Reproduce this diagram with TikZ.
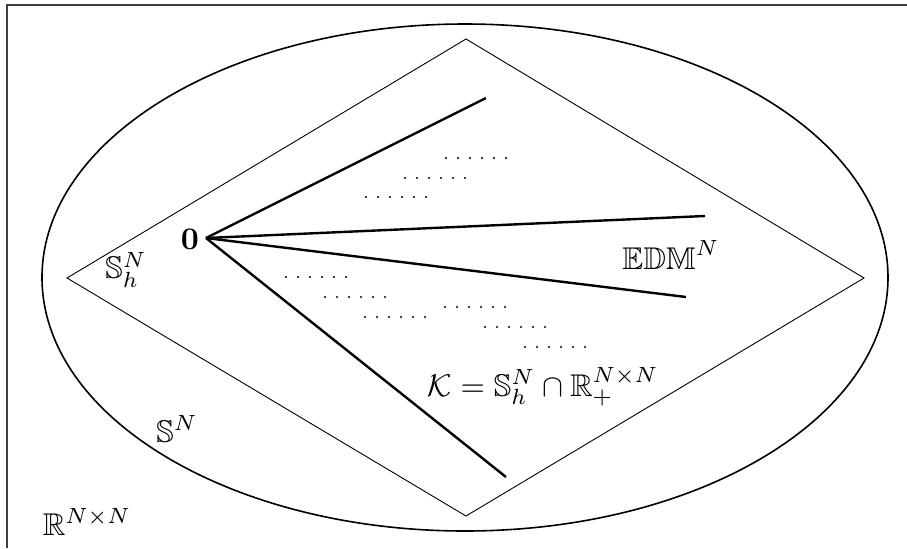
\documentclass[tikz,border=0pt]{standalone}
\usepackage{amssymb}
\begin{document}
\begin{tikzpicture}[x=0.5pt,y=-0.5pt,
  lbl/.style={inner sep=0pt,scale=1.57},
  ray/.style={line width=1.2pt},
  frameline/.style={line width=0.6pt,black!75}]
\useasboundingbox (0,0) rectangle (907,548);
% frame
\draw[frameline] (7,548) -- (7,5) -- (907,5);
% ellipse (S^N)
\draw[line width=0.8pt] (465,277.5) ellipse [x radius=211.5pt, y radius=126.75pt];
% diamond (S_h^N)
\draw[line width=0.45pt] (466,39) -- (864,278) -- (466,516) -- (67,278) -- cycle;
% origin and rays
\coordinate (O) at (206,238);
\coordinate (r1) at (486,98);
\coordinate (r2) at (705,216);
\coordinate (r3) at (686,297);
\coordinate (r4) at (506,477);
\draw[ray] (O) -- (r1);
\draw[ray] (O) -- (r2);
\draw[ray] (O) -- (r3);
\draw[ray] (O) -- (r4);
% dots
\foreach \x/\y in {446/158,405/178,366/197,286/277,325/297,365/317,445/307,485/327,525/347}{
  \foreach \k in {0,...,5}{
    \fill (\x+12*\k,\y) circle (0.55pt);
  }
}
% labels
\node[lbl] (zero) at (190,239) {$\mathbf{0}$};
\node[lbl] (Sh) at (126,270) {$\mathbb{S}_h^N$};
\node[lbl] (EDM) at (671,255) {$\mathbb{EDM}^N$};
\node[lbl,anchor=base west] (K) at (427,396) {$\mathcal{K}=\mathbb{S}_h^N\cap\mathbb{R}_+^{N\times N}$};
\node[lbl] (S) at (177,429) {$\mathbb{S}^N$};
\node[lbl] (R) at (87,522) {$\mathbb{R}^{N\times N}$};
\end{tikzpicture}
\end{document}
